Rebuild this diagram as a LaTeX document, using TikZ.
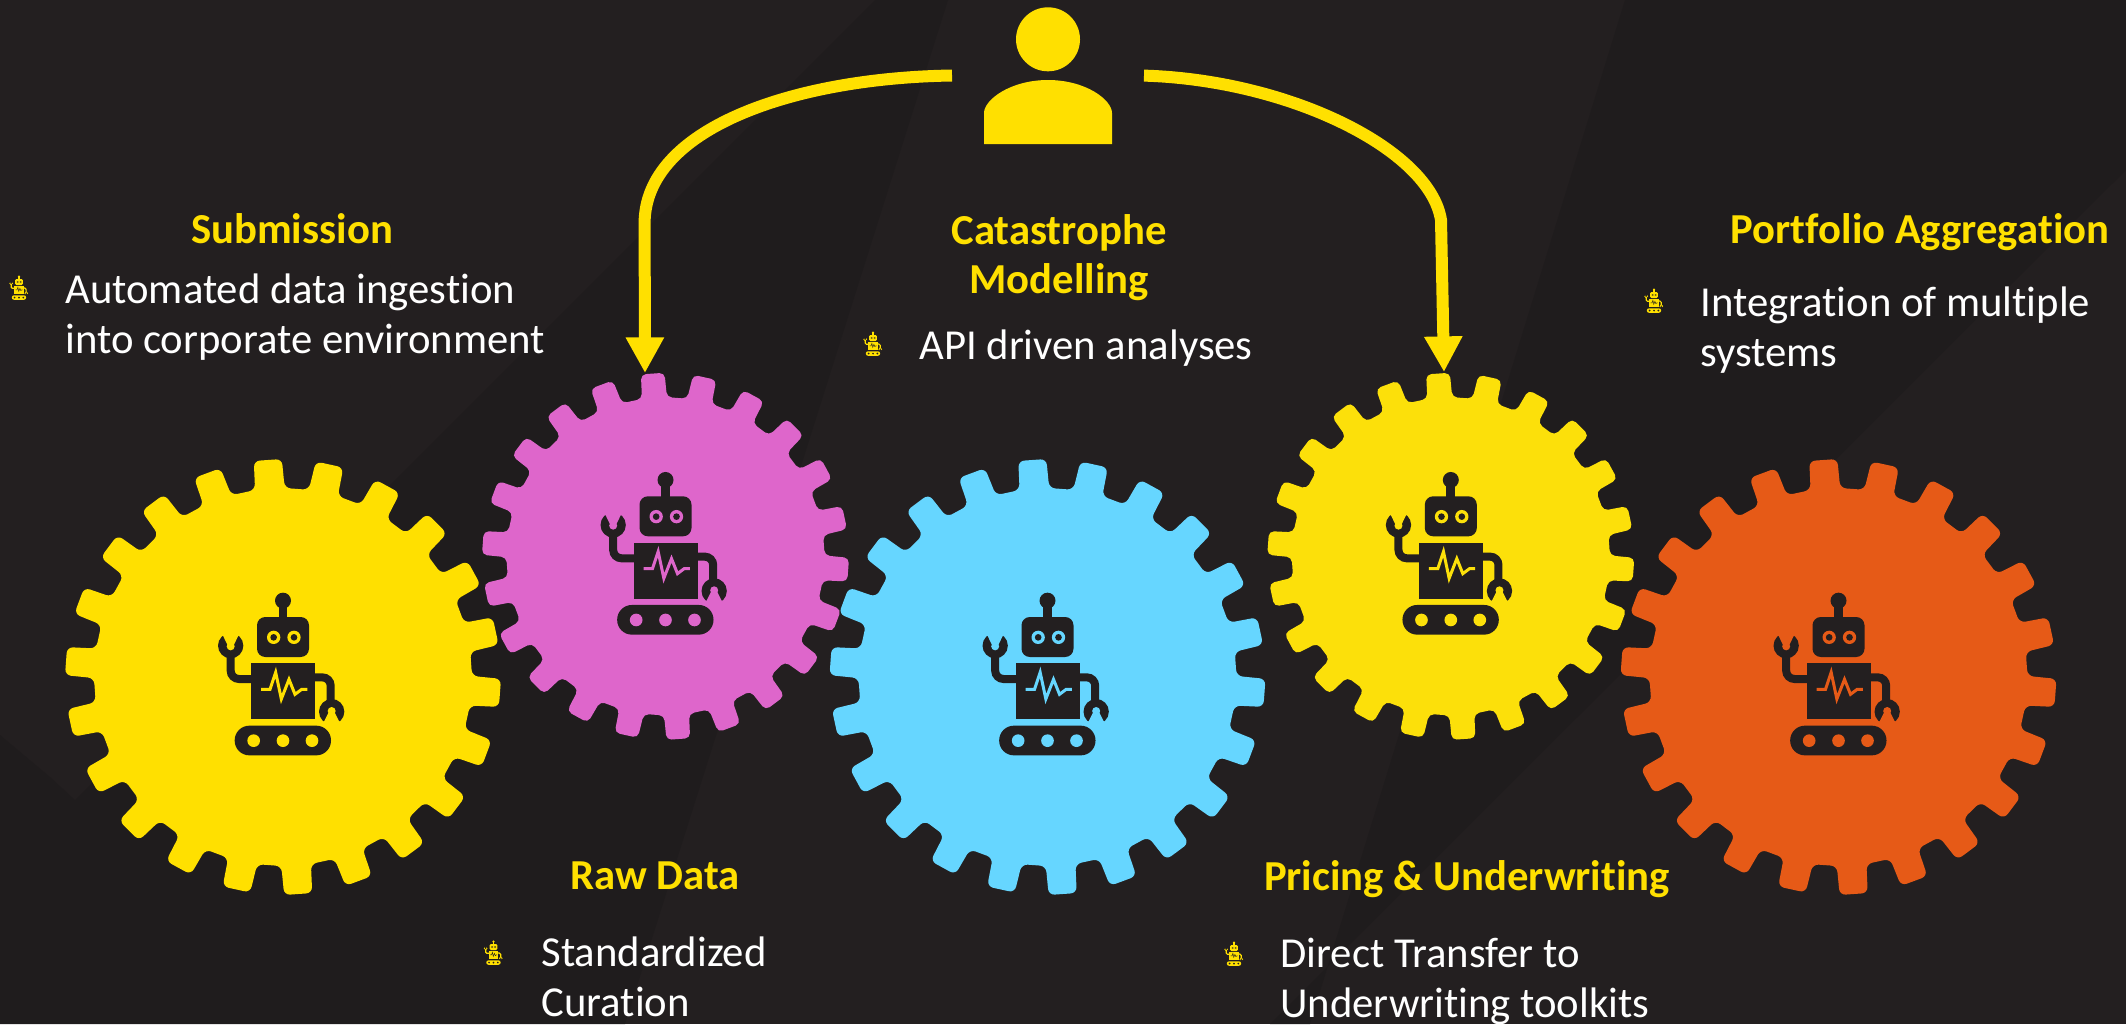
\documentclass[tikz,border=0pt]{standalone}
\usepackage{fontspec}
\setmainfont{Carlito}[Ligatures=NoCommon]
\usetikzlibrary{arrows.meta}
\definecolor{bgbase}{HTML}{231F20}
\definecolor{bgdark}{HTML}{1F1C1D}
\definecolor{gyellow}{HTML}{FFE000}
\definecolor{gyellowb}{HTML}{FCE00A}
\definecolor{gpink}{HTML}{DE66CB}
\definecolor{gblue}{HTML}{66D6FF}
\definecolor{gorange}{HTML}{E65A17}
\tikzset{
  conn/.style={draw=gyellow,line width=6pt,-{Triangle[length=17.8pt,width=18pt,fill=gyellow]}},
  headtext/.style={text=gyellow,font=\fontsize{21.35}{24.6}\selectfont\bfseries,align=center,inner sep=0pt},
  bodytext/.style={text=white,font=\fontsize{21.35}{25}\selectfont,align=left,inner sep=0pt,anchor=west},
}
\newcommand\gearshape[4]{% x y scale colour
  \begin{scope}[shift={(#1,#2)},scale=#3]
    \fill[#4,rounded corners={3pt*#3}] ({-94-4.5}:189)
      \foreach \k [evaluate=\k as \a using -94+\k*360/22] in {0,...,20} {
        -- ({\a-3.7}:218) -- ({\a+3.7}:218) -- ({\a+4.5}:189) -- ({\a+360/22-4.5}:189)
      }
      -- ({-94+21*360/22-3.7}:218) -- ({-94+21*360/22+3.7}:218) -- ({-94+21*360/22+4.5}:189) -- cycle;
  \end{scope}}
\newcommand\robot[5]{% x y scale robotcolour backdrop
  \begin{scope}[shift={(#1,#2)},scale=#3/3]
    \fill[#4] (0,-229) circle[radius=24];
    \fill[#4] (-13,-229) rectangle (13,-170);
    \fill[#4,rounded corners={25*#3/6*1pt}] (-78,-180) rectangle (78,-60);
    \foreach \ex in {-28,33} {
      \fill[#5] (\ex,-119) circle[radius=20];
      \fill[#4] (\ex,-119) circle[radius=10];
    }
    \fill[#4] (-96,-41) rectangle (96,127);
    \draw[#5,line width={9*#3/6*1pt},miter limit=6] (-66,37) -- (-39,37) -- (-22,-14) -- (-5,66) -- (18,7) -- (36,52) -- (56,37) -- (73,37);
    \draw[#4,line width={24*#3/6*1pt},rounded corners={25*#3/6*1pt}] (-90,6) -- (-157,6) -- (-157,-80);
    \draw[#4,line width={24*#3/6*1pt},rounded corners={25*#3/6*1pt}] (90,1) -- (143,1) -- (143,75);
    \fill[#4] (-157,-94) circle[radius=38];
    \fill[#5] (-157,-92) circle[radius=12];
    \fill[#5] (-166,-95) -- (-148,-95) -- (-135,-122) -- (-120,-140) -- (-194,-140) -- (-179,-122) -- cycle;
    \fill[#4] (146,104) circle[radius=38];
    \fill[#5] (146,102) circle[radius=12];
    \fill[#5] (137,106) -- (155,106) -- (168,132) -- (183,144) -- (109,144) -- (124,132) -- cycle;
    \fill[#4,rounded corners={44*#3/6*1pt}] (-145,146) rectangle (144,235);
    \foreach \wx in {-88,0,87} { \fill[#5] (\wx,191) circle[radius=19]; }
  \end{scope}}
\begin{document}
\begin{tikzpicture}[x=0.5pt,y=-0.5pt]
\useasboundingbox (0,0) rectangle (2126,1024);
\fill[bgbase] (0,0) rectangle (2126,1024);
\fill[bgdark] (875,0) -- (948,0) -- (625,1024) -- (0,1024) -- (0,735) -- (50,777) -- (75,800) -- cycle;
\fill[bgdark] (1625,0) -- (2126,0) -- (2126,170) -- (1270,1024) -- (1310,1024) -- cycle;

\gearshape{283}{677}{1}{gyellow}
\gearshape{1047.5}{677}{1}{gblue}
\gearshape{1838.5}{677}{1}{gorange}
\gearshape{665.5}{556.3}{0.842}{gpink}
\gearshape{1450.8}{556.3}{0.842}{gyellowb}
\robot{283}{677}{1}{bgbase}{gyellow}
\robot{1047.5}{677}{1}{bgbase}{gblue}
\robot{1838.5}{677}{1}{bgbase}{gorange}
\robot{665.5}{556.3}{1}{bgbase}{gpink}
\robot{1450.8}{556.3}{1}{bgbase}{gyellowb}

% person
\fill[gyellow] (1048,39.3) ellipse[x radius=32,y radius=32];
\fill[gyellow] (984,144) -- (984,113) .. controls (984,100) and (1010,80) .. (1048,80) .. controls (1086,80) and (1112,100) .. (1112,113) -- (1112,144) -- cycle;

\coordinate (userL) at (952,75.5);
\coordinate (userR) at (1144,75.6);
\coordinate (bendL) at (644.6,223);
\coordinate (bendR) at (1441,220);
\coordinate (rawTop) at (645,373);
\coordinate (priceTop) at (1444,372);
\draw[conn] (userL) .. controls (790,78) and (645,130) .. (bendL) -- (rawTop);
\draw[conn] (userR) .. controls (1290,80) and (1430,150) .. (bendR) -- (priceTop);

% headings
\node[headtext] (hSub) at (292,229) {Submission};
\node[headtext] (hCat) at (1059,258) {Catastrophe\\Modelling};
\node[headtext] (hPort) at (1920,232) {Portfolio Aggregation};
\node[headtext] (hRaw) at (655,876) {Raw Data};
\node[headtext] (hPrice) at (1467,879) {Pricing \& Underwriting};

% bullets and body text
\robot{19}{288}{0.15}{gyellow}{bgbase}
\robot{873}{344}{0.15}{gyellow}{bgbase}
\robot{1654}{301}{0.15}{gyellow}{bgbase}
\robot{493.5}{953}{0.15}{gyellow}{bgbase}
\robot{1234}{954}{0.15}{gyellow}{bgbase}
\node[bodytext] (tSub) at (65,317) {Automated data ingestion\\into corporate environment};
\node[bodytext] (tCat) at (919,348) {API driven analyses};
\node[bodytext] (tPort) at (1700,330) {Integration of multiple\\systems};
\node[bodytext] (tRaw) at (541,977) {Standardized\\Curation};
\node[bodytext] (tPrice) at (1280,981) {Direct Transfer to\\Underwriting toolkits};
\end{tikzpicture}
\end{document}
